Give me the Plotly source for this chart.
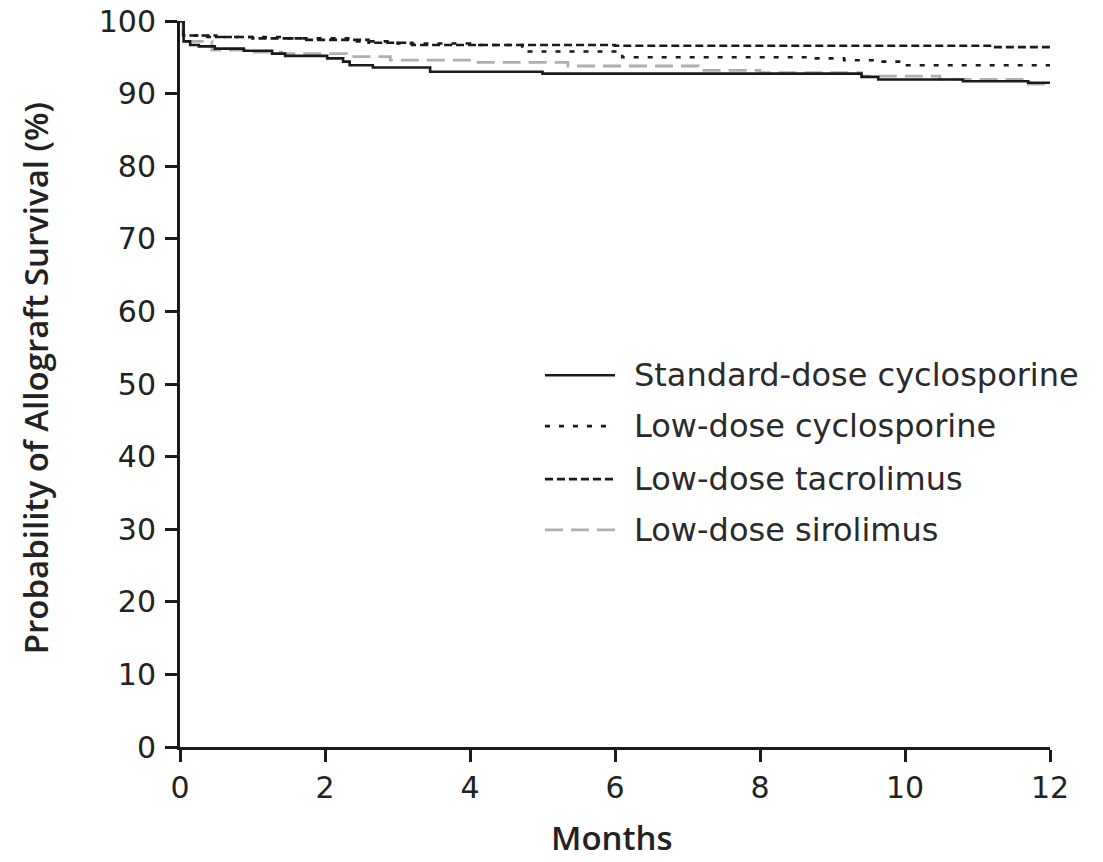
import plotly.graph_objects as go

# ---- data (Kaplan-Meier step points, months vs % survival) ----
names = ["Standard-dose cyclosporine", "Low-dose cyclosporine",
         "Low-dose tacrolimus", "Low-dose sirolimus"]

months_std = [0, 0.05, 0.14, 0.26, 0.48, 0.88, 1.27, 1.45, 2.03, 2.25, 2.34, 2.66, 3.45, 5.0, 9.4, 9.63, 10.8, 11.7, 12]
surv_std   = [100, 97.2, 96.7, 96.5, 96.2, 95.9, 95.5, 95.2, 94.85, 94.4, 93.9, 93.6, 93.0, 92.75, 92.3, 91.95, 91.7, 91.5, 91.5]

months_lcsa = [0, 0.05, 0.3, 1.5, 2.4, 3.0, 4.0, 4.72, 6.1, 8.7, 9.16, 9.6, 10.0, 12]
surv_lcsa   = [100, 98.0, 97.8, 97.6, 97.2, 96.9, 96.7, 95.8, 95.0, 94.85, 94.6, 94.4, 93.9, 93.9]

months_tac = [0, 0.05, 0.5, 1.0, 1.7, 2.6, 3.2, 6.0, 11.2, 12]
surv_tac   = [100, 98.0, 97.8, 97.6, 97.4, 97.0, 96.7, 96.6, 96.4, 96.4]

months_sir = [0, 0.04, 0.44, 0.9, 1.4, 2.3, 2.9, 4.05, 5.35, 7.15, 8.0, 9.4, 10.48, 11.66, 12]
surv_sir   = [100, 97.2, 96.0, 95.7, 95.5, 95.1, 94.6, 94.3, 93.8, 93.2, 92.9, 92.4, 91.95, 91.3, 91.3]

x_ticks = [0, 2, 4, 6, 8, 10, 12]
y_ticks = [0, 10, 20, 30, 40, 50, 60, 70, 80, 90, 100]

x_title = "Months"
y_title = "Probability of Allograft Survival (%)"

# ---- styles ----
styles = {
    names[0]: dict(color="#1a1a1a", width=2.6, dash="solid"),
    names[1]: dict(color="#1a1a1a", width=2.6, dash="5px,9px"),
    names[2]: dict(color="#1a1a1a", width=2.6, dash="8px,4px"),
    names[3]: dict(color="#aeb0b0", width=2.8, dash="18px,8px"),
}
series = {
    names[0]: (months_std, surv_std),
    names[1]: (months_lcsa, surv_lcsa),
    names[2]: (months_tac, surv_tac),
    names[3]: (months_sir, surv_sir),
}

fig = go.Figure()
for nm in [names[3], names[1], names[2], names[0]]:
    xs, ys = series[nm]
    fig.add_trace(go.Scatter(x=xs, y=ys, mode="lines", name=nm,
                             line=dict(shape="hv", **styles[nm]),
                             showlegend=False, hoverinfo="skip", cliponaxis=False))

# ---- manual legend (sample line + label) ----
legend_rows_y = [0.512, 0.442, 0.369, 0.299]
for nm, yy in zip(names, legend_rows_y):
    st = styles[nm]
    fig.add_shape(type="line", xref="paper", yref="paper",
                  x0=0.4195, x1=0.5, y0=yy, y1=yy,
                  line=dict(color=st["color"], width=st["width"], dash=st["dash"]))
    fig.add_annotation(xref="paper", yref="paper", x=0.5195, y=yy,
                       text=nm, showarrow=False, xanchor="left", yanchor="middle",
                       font=dict(family="DejaVu Sans", size=32, color="#2a2a2a"))

# ---- axis titles ----
fig.add_annotation(xref="paper", yref="paper", x=0.4966, y=-0.124,
                   text=x_title, showarrow=False, xanchor="center", yanchor="middle",
                   font=dict(family="Open Sans", size=33, color="#222222", weight=600))
fig.add_annotation(xref="paper", yref="paper", x=-0.1667, y=0.508,
                   text=y_title, showarrow=False, xanchor="center", yanchor="middle",
                   textangle=-90,
                   font=dict(family="Open Sans", size=33, color="#222222", weight=600))

axis_common = dict(showline=True, linecolor="#1a1a1a", linewidth=3,
                   ticks="outside", ticklen=12, tickwidth=3, tickcolor="#1a1a1a",
                   showgrid=False, zeroline=False, automargin=False,
                   tickfont=dict(family="DejaVu Sans", size=30, color="#222222"))

fig.update_layout(
    width=1103, height=862,
    margin=dict(l=180, r=53, t=21, b=115),
    paper_bgcolor="white", plot_bgcolor="white",
    xaxis=dict(range=[0, 12], tickvals=x_ticks, ticktext=[str(v) for v in x_ticks],
               ticklabelstandoff=0, **axis_common),
    yaxis=dict(range=[0, 100], tickvals=y_ticks, ticktext=[str(v) for v in y_ticks],
               ticklabelstandoff=3, **axis_common),
)

fig.write_html("out.html")
